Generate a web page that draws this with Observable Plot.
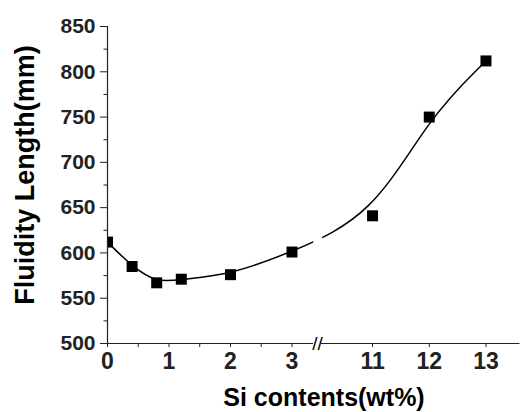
<!DOCTYPE html>
<html><head><meta charset="utf-8">
<script src="https://cdn.jsdelivr.net/npm/d3@7"></script>
<script src="https://cdn.jsdelivr.net/npm/@observablehq/plot@0.6"></script>
<style>body{margin:0;background:#fff;}</style>
</head><body><div id="chart"></div>
<script>
const siContent = [0, 0.4, 0.8, 1.2, 2, 3, 11, 12, 13];
const fluidity = [612, 585, 567, 571, 576, 601, 641, 750, 812];
const xMajorTicks = [0, 1, 2, 3, 11, 12, 13];
const xMinorTicks = [0.5, 1.5, 2.5];
const yMajorTicks = [500, 550, 600, 650, 700, 750, 800, 850];
const yMinorTicks = [525, 575, 625, 675, 725, 775, 825];
const xBreak = [3.35, 10.1];
const xTitle = ["Si contents(wt%)"];
const yTitle = ["Fluidity Length(mm)"];
const breakMark = ["//"];

const data = siContent.map((x, i) => ({x, y: fluidity[i]}));
const font = "'Liberation Sans', Arial, Helvetica, sans-serif";
const axisColor = "#222";

const chart = Plot.plot({
  width: 523, height: 412,
  marginLeft: 107, marginRight: 3, marginTop: 26, marginBottom: 69,
  style: {fontFamily: font, background: "#fff", color: "#000"},
  x: {type: "linear", domain: [0, xBreak[0], xBreak[1], 13.6], range: [107, 313, 321, 519.5], label: null},
  y: {domain: [500, 850], label: null},
  marks: [
    Plot.line(data, {x: "x", y: "y", curve: "basis", stroke: "#000", strokeWidth: 1.5}),
    Plot.rect([0], {x1: () => xBreak[0] + 0.2, x2: () => xBreak[1] + 0.02, y1: () => 560, y2: () => 700, fill: "#fff"}),
    Plot.dot(data, {x: "x", y: "y", symbol: "square", r: 6.2, fill: "#000", stroke: null, clip: true}),
    Plot.ruleX([xMajorTicks[0]], {y1: yMajorTicks[0], y2: yMajorTicks[yMajorTicks.length - 1], stroke: axisColor, strokeWidth: 1.2}),
    Plot.ruleY([yMajorTicks[0]], {x1: () => xMajorTicks[0], x2: () => xBreak[0], stroke: axisColor, strokeWidth: 1.2}),
    Plot.ruleY([yMajorTicks[0]], {x1: () => xBreak[1], x2: () => 13.6, stroke: axisColor, strokeWidth: 1.2}),
    Plot.text(breakMark, {x: () => (xBreak[0] + xBreak[1]) / 2, y: () => yMajorTicks[0], text: d => d, fontSize: 19, fill: "#000"}),
    Plot.axisY(yMajorTicks, {tickSize: 7, tickPadding: 5, fontSize: 21, fontWeight: "bold", label: null, color: axisColor}),
    Plot.axisY(yMinorTicks, {tickSize: 3.5, tickFormat: () => "", label: null, color: axisColor}),
    Plot.axisX(xMajorTicks, {tickSize: 4, tickPadding: 5, fontSize: 23, fontWeight: "bold", label: null, color: axisColor}),
    Plot.axisX(xMinorTicks, {tickSize: 4, tickFormat: () => "", label: null, color: axisColor}),
    Plot.text(yTitle, {frameAnchor: "left", text: d => d, rotate: -90, dx: -74, dy: -10, textAnchor: "middle", lineAnchor: "bottom", fontSize: 27, fontWeight: "bold", fill: "#000"}),
    Plot.text(xTitle, {frameAnchor: "bottom", text: d => d, dx: 10, dy: 62, textAnchor: "middle", lineAnchor: "bottom", fontSize: 25, fontWeight: "bold", fill: "#000"})
  ]
});
document.getElementById("chart").appendChild(chart);
</script>
</body></html>
